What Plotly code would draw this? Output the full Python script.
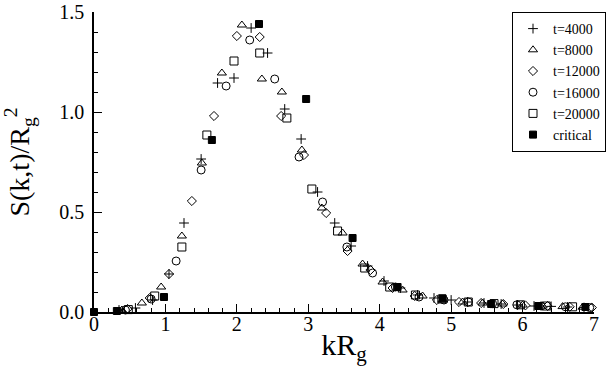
import plotly.graph_objects as go

# ---- data ----
k_4000 = [0.35, 0.58, 0.82, 1.05, 1.26, 1.50, 1.73, 1.96, 2.20, 2.43, 2.67, 2.90, 3.13, 3.37, 3.60,
          3.83, 4.06, 4.29, 4.53, 4.76, 5.00, 5.23, 5.46, 5.70, 5.93, 6.16, 6.40, 6.63, 6.86]
s_4000 = [0.01, 0.02, 0.06, 0.19, 0.445, 0.765, 1.145, 1.17, 1.42, 1.295, 1.015, 0.865, 0.60, 0.445, 0.33,
          0.23, 0.155, 0.12, 0.085, 0.07, 0.06, 0.05, 0.045, 0.04, 0.035, 0.03, 0.028, 0.025, 0.022]

k_8000 = [0.39, 0.67, 0.94, 1.23, 1.51, 1.79, 2.07, 2.35, 2.63, 2.91, 3.19, 3.48, 3.76, 4.04, 4.32,
          4.60, 4.88, 5.16, 5.44, 5.72, 6.00, 6.28, 6.56, 6.84]
s_8000 = [0.01, 0.045, 0.125, 0.38, 0.745, 1.195, 1.435, 1.165, 1.10, 0.81, 0.52, 0.395, 0.24, 0.15, 0.11,
          0.08, 0.06, 0.05, 0.045, 0.04, 0.035, 0.03, 0.027, 0.024]

k_12000 = [0.47, 0.78, 1.05, 1.37, 1.68, 2.00, 2.32, 2.62, 2.94, 3.25, 3.55, 3.87, 4.18, 4.49, 4.80,
           5.11, 5.42, 5.73, 6.04, 6.35, 6.66, 6.97]
s_12000 = [0.015, 0.07, 0.19, 0.555, 0.98, 1.38, 1.375, 0.98, 0.785, 0.495, 0.305, 0.21, 0.12, 0.08, 0.06,
           0.05, 0.045, 0.04, 0.033, 0.03, 0.026, 0.022]

k_16000 = [0.44, 0.80, 1.15, 1.50, 1.85, 2.18, 2.53, 2.87, 3.20, 3.54, 3.90, 4.22, 4.55, 4.90, 5.24,
           5.58, 5.92, 6.26, 6.60, 6.94]
s_16000 = [0.01, 0.065, 0.255, 0.71, 1.13, 1.36, 1.165, 0.775, 0.55, 0.325, 0.195, 0.125, 0.075, 0.06, 0.05,
           0.042, 0.036, 0.03, 0.026, 0.022]

k_20000 = [0.48, 0.85, 1.23, 1.58, 1.96, 2.32, 2.70, 3.05, 3.41, 3.79, 4.14, 4.50, 4.87, 5.24, 5.60,
           5.97, 6.33, 6.70]
s_20000 = [0.012, 0.08, 0.325, 0.885, 1.255, 1.295, 0.97, 0.615, 0.405, 0.22, 0.125, 0.085, 0.065, 0.05, 0.042,
           0.036, 0.03, 0.026]

k_crit = [0.0, 0.32, 0.98, 1.65, 2.31, 2.97, 3.62, 4.25, 4.88, 5.56, 6.22, 6.88]
s_crit = [0.0, 0.005, 0.075, 0.86, 1.44, 1.065, 0.37, 0.125, 0.068, 0.04, 0.03, 0.025]

x_ticks = [0, 1, 2, 3, 4, 5, 6, 7]
y_ticks = [0.0, 0.5, 1.0, 1.5]

series = [
    ("t=4000", k_4000, s_4000, "cross-thin-open", 7),
    ("t=8000", k_8000, s_8000, "triangle-up-open", 8),
    ("t=12000", k_12000, s_12000, "diamond-open", 7),
    ("t=16000", k_16000, s_16000, "circle-open", 8),
    ("t=20000", k_20000, s_20000, "square-open", 8),
    ("critical", k_crit, s_crit, "square", 7),
]

SERIF = "Liberation Serif, Times New Roman, serif"

fig = go.Figure()
for name, xs, ys, sym, sz in series:
    fig.add_trace(go.Scatter(
        x=xs, y=ys, mode="markers", name=name, cliponaxis=False,
        marker=dict(symbol=sym, size=sz, color="black", line=dict(color="black", width=1)),
    ))

axis_common = dict(
    showgrid=False, zeroline=False, showline=True, linecolor="black", linewidth=1.5,
    ticks="inside", tickcolor="black", tickwidth=1, ticklen=8,
    tickfont=dict(family=SERIF, size=20, color="black"), mirror=False,
    ticklabeloverflow="allow",
)

fig.update_xaxes(
    range=[0, 7], tickvals=x_ticks, ticktext=[str(v) for v in x_ticks],
    minor=dict(dtick=0.2, ticks="inside", ticklen=4, tickcolor="black", tickwidth=1),
    title=dict(text="kR<sub>g</sub>", font=dict(family=SERIF, size=30, color="black"), standoff=0),
    ticklabelstandoff=-7,
    **axis_common,
)
fig.update_yaxes(
    range=[0, 1.5], tickvals=y_ticks, ticktext=["%.1f" % v for v in y_ticks],
    minor=dict(dtick=0.1, ticks="inside", ticklen=4, tickcolor="black", tickwidth=1),
    title=dict(text="S(k,t)/R<sub>g</sub><sup>2</sup>", font=dict(family=SERIF, size=28, color="black"), standoff=23),
    ticklabelstandoff=4,
    **axis_common,
)

fig.update_layout(
    width=616, height=366,
    margin=dict(l=94, r=22, t=12, b=54, autoexpand=False),
    paper_bgcolor="white", plot_bgcolor="white",
    showlegend=True,
    legend=dict(
        x=1.024, y=1.0, xanchor="right", yanchor="top",
        bordercolor="black", borderwidth=1, bgcolor="white",
        font=dict(family=SERIF, size=14, color="black"),
        itemsizing="trace", itemwidth=30, tracegroupgap=0,
    ),
)

fig.write_html(
    "out.html",
    config={"displayModeBar": False},
    post_script="document.body.style.margin='0';document.body.style.overflow='hidden';",
)
